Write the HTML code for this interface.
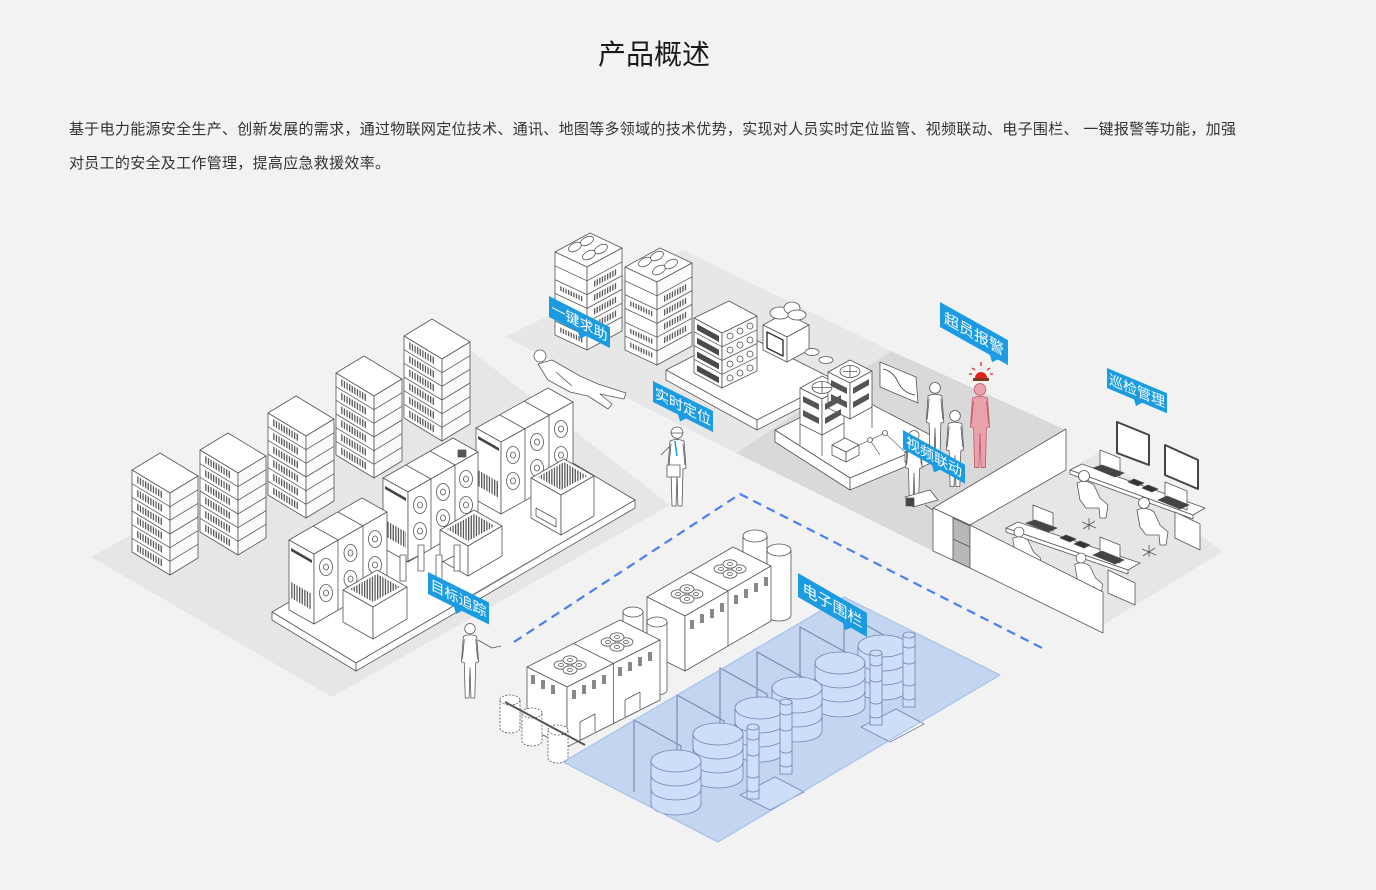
<!DOCTYPE html>
<html><head><meta charset="utf-8">
<style>
html,body{margin:0;padding:0;background:#f2f2f2;}
body{width:1376px;height:890px;position:relative;overflow:hidden;font-family:"Liberation Sans","Noto Sans CJK SC",sans-serif;}
.t{position:absolute;left:598px;top:37px;font-size:28px;line-height:36px;color:#1a1a1a;white-space:nowrap;}
.p{position:absolute;left:69px;font-size:15px;line-height:20px;color:#333;white-space:nowrap;letter-spacing:.3px;}
svg{position:absolute;left:0;top:0;}
</style></head><body>
<div class="t">产品概述</div>
<div class="p" style="top:120px">基于电力能源安全生产、创新发展的需求，通过物联网定位技术、通讯、地图等多领域的技术优势，实现对人员实时定位监管、视频联动、电子围栏、 一键报警等功能，加强</div>
<div class="p" style="top:154px">对员工的安全及工作管理，提高应急救援效率。</div>
<svg width="1376" height="890" viewBox="0 0 1376 890" xmlns="http://www.w3.org/2000/svg" font-family="Liberation Sans, Noto Sans CJK SC, sans-serif">
<defs>
<pattern id="vs" width="2.6" height="4" patternUnits="userSpaceOnUse"><rect width="1.3" height="4" fill="#5a5a5a"/></pattern>
<g id="rk">
<polygon points="0,17 28,0 66,23 38,40" fill="#fff"/>
<polygon points="0,17 38,40 38,122 0,99" fill="#fff"/>
<polygon points="38,40 66,23 66,105 38,122" fill="#fafafa"/>
<path d="M0,30.7L38,53.7L66,36.7M0,44.3L38,67.3L66,50.3M0,58L38,81L66,64M0,71.7L38,94.7L66,77.7M0,85.3L38,108.3L66,91.3" fill="none"/>
<g fill="url(#vs)" stroke="none">
<polygon points="4,22.4 30,38.2 30,45.2 4,29.4"/>
<polygon points="4,36.1 30,51.9 30,58.9 4,43.1"/>
<polygon points="4,49.7 30,65.5 30,72.5 4,56.7"/>
<polygon points="4,63.4 30,79.2 30,86.2 4,70.4"/>
<polygon points="4,77.1 30,92.9 30,99.9 4,84.1"/>
<polygon points="4,90.7 30,106.5 30,113.5 4,97.7"/>
</g>
</g>
<g id="rk2">
<polygon points="0,19 35,0 67,15 32,34" fill="#fff"/>
<polygon points="0,19 32,34 32,117 0,102" fill="#fff"/>
<polygon points="32,34 67,15 67,98 32,117" fill="#fafafa"/>
<path d="M0,32.8L32,47.8L67,28.8M0,46.6L32,61.6L67,42.6M0,60.4L32,75.4L67,56.4M0,74.2L32,89.2L67,70.2M0,88L32,103L67,84" fill="none"/>
<ellipse cx="20" cy="14" rx="7" ry="4" transform="rotate(-28 20 14)" fill="#fff"/>
<ellipse cx="32" cy="8" rx="7" ry="4" transform="rotate(-28 32 8)" fill="#fff"/>
<ellipse cx="34" cy="22" rx="7" ry="4" transform="rotate(-28 34 22)" fill="#fff"/>
<ellipse cx="46" cy="16" rx="7" ry="4" transform="rotate(-28 46 16)" fill="#fff"/>
<g fill="url(#vs)" stroke="none">
<polygon points="38,48.5 62,35.5 62,41.5 38,54.5"/>
<polygon points="38,62.3 62,49.3 62,55.3 38,68.3"/>
<polygon points="38,76.1 62,63.1 62,69.1 38,82.1"/>
<polygon points="38,89.9 62,76.9 62,82.9 38,95.9"/>
<polygon points="4,52.5 28,63.7 28,68.6 4,57.4"/>
<polygon points="4,80.1 28,91.3 28,96.2 4,85"/>
<polygon points="4,93.9 28,105.1 28,110 4,98.8"/>
</g>
</g>
<g id="pp"><circle cx="0" cy="6" r="5.5"/><path d="M-7,14Q0,11 7,14L9,41L6,42L5,79L1,79L0,47L-1,79L-5,79L-6,42L-9,41Z"/><path d="M-6,17L-8,38M6,17L8,38" fill="none"/></g>
<g id="fn"><ellipse rx="7" ry="4.2"/><ellipse rx="2.5" ry="1.5"/></g>
<g id="cf"><ellipse rx="6.5" ry="8.5"/><ellipse rx="2.5" ry="3"/></g>
<g id="sp"><circle cx="0" cy="0" r="5.5"/><path d="M-7,7Q2,3 10,9L16,22L24,29L22,42L16,42L15,32L2,32L-4,24Z"/><path d="M-2,46L12,52M5,42V54M-1,53L11,45" fill="none"/></g>
<g id="tk"><path d="M-25,0V43A25,11 0 0 0 25,43V0Z"/><ellipse cx="0" cy="0" rx="25" ry="11"/><path d="M-25,14A25,11 0 0 0 25,14M-25,28A25,11 0 0 0 25,28" fill="none"/></g>
<g id="cl"><rect x="-6" y="0" width="12" height="72"/><ellipse cx="0" cy="0" rx="6" ry="3"/><path d="M-6,10A6,3 0 0 0 6,10M-6,26A6,3 0 0 0 6,26M-6,48A6,3 0 0 0 6,48M-6,62A6,3 0 0 0 6,62" fill="none"/></g>
</defs>

<!-- floors -->
<polygon points="91,557 470,350 670,505 332,697" fill="#e6e6e6"/>
<polygon points="505,337 683,250 891,351 736,453" fill="#e7e7e7"/>
<polygon points="736,453 891,351 1066,430 933,510 933,551" fill="#d9d9d9"/>
<polygon points="970,525 1100,452 1222,552 1103,625" fill="#e6e6e6"/>

<!-- top band objects -->
<g fill="#fff" stroke="#555" stroke-width=".8" stroke-linejoin="round">
<use href="#rk2" transform="translate(555,233)"/>
<use href="#rk2" transform="translate(625,248)"/>
<polygon points="666,370 740,332 835,380 757,420"/>
<polygon points="666,370 757,420 757,430 666,380"/>
<polygon points="757,420 835,380 835,390 757,430"/>
<polygon points="694,318 729,301 757,316 722,333"/>
<polygon points="694,318 722,333 722,388 694,373"/>
<polygon points="722,333 757,316 757,371 722,388" fill="#fafafa"/>
<g fill="#4a4a4a" stroke="none">
<polygon points="697,324 719,336 719,342 697,330"/>
<polygon points="697,337.8 719,349.8 719,355.8 697,343.8"/>
<polygon points="697,351.5 719,363.5 719,369.5 697,357.5"/>
<polygon points="697,365.3 719,377.3 719,383.3 697,371.3"/>
</g>
<path d="M694,331.8L722,346.8L757,329.8M694,345.5L722,360.5L757,343.5M694,359.3L722,374.3L757,357.3" fill="none"/>
<g fill="none">
<circle cx="730" cy="336" r="3"/><circle cx="740" cy="331" r="3"/><circle cx="750" cy="326" r="3"/>
<circle cx="730" cy="350" r="3"/><circle cx="740" cy="345" r="3"/><circle cx="750" cy="340" r="3"/>
<circle cx="730" cy="364" r="3"/><circle cx="740" cy="359" r="3"/><circle cx="750" cy="354" r="3"/>
<circle cx="730" cy="378" r="3"/><circle cx="740" cy="373" r="3"/><circle cx="750" cy="368" r="3"/>
</g>
<polygon points="763,325 785,313 809,325 787,337"/>
<polygon points="763,325 787,337 787,362 763,350"/>
<polygon points="787,337 809,325 809,350 787,362"/>
<polygon points="767,332 783,340 783,356 767,348" fill="none" stroke="#333" stroke-width="1.4"/>
<ellipse cx="780" cy="313" rx="10" ry="6"/><ellipse cx="792" cy="308" rx="8" ry="6"/><ellipse cx="797" cy="315" rx="9" ry="5"/>
<ellipse cx="812" cy="352" rx="7" ry="3.5"/><ellipse cx="826" cy="360" rx="7" ry="3.5"/>
<polygon points="775,430 850,393 940,440 850,478"/>
<polygon points="775,430 850,478 850,490 775,442"/>
<polygon points="850,478 940,440 940,452 850,490"/>
<path d="M800,424V445M822,435V456M844,423V444M872,407V428" fill="none"/>
<polygon points="800,388 822,376 844,387 822,399"/>
<polygon points="800,388 822,399 822,435 800,424"/>
<polygon points="822,399 844,387 844,423 822,435"/>
<polygon points="828,372 850,360 872,371 850,383"/>
<polygon points="828,372 850,383 850,419 828,408"/>
<polygon points="850,383 872,371 872,407 850,419"/>
<g fill="#555" stroke="none">
<polygon points="803,396 819,404 819,410 803,402"/><polygon points="803,410 819,418 819,424 803,416"/>
<polygon points="825,404 841,395 841,401 825,410"/><polygon points="825,418 841,409 841,415 825,424"/>
<polygon points="831,380 847,388 847,394 831,386"/><polygon points="831,394 847,402 847,408 831,400"/>
<polygon points="853,388 869,379 869,385 853,394"/><polygon points="853,402 869,393 869,399 853,408"/>
</g>
<ellipse cx="822" cy="387.5" rx="10" ry="6"/><ellipse cx="850" cy="371.5" rx="10" ry="6"/>
<path d="M812,387.5H832M822,382V393M843,371.5H857M850,366V377" fill="none"/>
<polygon points="880,362 916,377 918,403 880,387"/>
<path d="M883,369Q893,371 898,382T915,395" fill="none" stroke="#333"/>
<polygon points="905,452 920,445 933,452 918,459"/><polygon points="905,452 918,459 918,469 905,462"/><polygon points="918,459 933,452 933,462 918,469"/>
<polygon points="832,445 845,438 859,445 846,452"/><polygon points="832,445 846,452 846,462 832,455"/><polygon points="846,452 859,445 859,455 846,462"/>
<path d="M859,445L885,433L905,452M870,440L880,455" fill="none" stroke="#777"/>
<circle cx="885" cy="433" r="2.5"/><circle cx="870" cy="440" r="2.5"/>
<circle cx="540" cy="356" r="6"/>
<path d="M538,364L552,360L580,376L598,384L626,393L624,399L600,394L612,404L608,409L588,396L570,392L548,380Z"/>
<path d="M556,372L572,386" fill="none"/>
<use href="#pp" transform="translate(677,427)"/>
<path d="M671,433A6,6 0 0 1 683,433Z" fill="#fff"/>
<path d="M675,441L677,456" fill="none" stroke="#1b9ce2" stroke-width="1.5"/>
<rect x="667" y="465" width="13" height="12"/>
<path d="M669,447L661,455" fill="none"/>
<use href="#pp" transform="translate(935,382) scale(.98)"/>
<use href="#pp" transform="translate(955,410) scale(.97)"/>
<use href="#pp" transform="translate(980,383) scale(1.07)" fill="#eaa3ad" stroke="#c45a6a"/>
<use href="#pp" transform="translate(914,430) scale(.92)"/>
<polygon points="905,497 930,490 938,500 913,507"/>
<rect x="906" y="498" width="8" height="8" fill="#444"/>
<path d="M925,505L936,512L944,510" fill="none"/>
</g>
<path d="M975,378A6,6 0 0 1 987,378Z" fill="#e3211b"/>
<rect x="973" y="378" width="16" height="3" fill="#7a3a20"/>
<path d="M981,362V366M972,368L975,370M990,368L987,370M969,374H972M990,374H993" stroke="#e3211b" stroke-width="1.2"/>

<!-- right room -->
<g fill="#fff" stroke="#555" stroke-width=".8" stroke-linejoin="round">
<polygon points="933,508 1066,429 1066,470 970,525"/>
<polygon points="933,508 970,525 970,568 933,551"/>
<polygon points="953,518 970,526 970,568 953,560" fill="#b8b8b8"/>
<path d="M953,539L970,547" fill="none"/>
<polygon points="1117,422 1149,435 1149,465 1117,453" stroke="#444" stroke-width="2"/>
<polygon points="1165,445 1198,460 1198,489 1165,475" stroke="#444" stroke-width="2"/>
<polygon points="1070,470 1082,464 1205,508 1193,515"/>
<polygon points="1070,470 1193,515 1193,519 1070,474"/>
<polygon points="1175,512 1200,524 1200,550 1175,538"/>
<polygon points="1100,450 1120,458 1120,476 1100,468"/>
<polygon points="1093,468 1115,477 1124,473 1102,465" fill="#444"/>
<polygon points="1165,482 1187,491 1187,510 1165,501"/>
<polygon points="1158,500 1180,509 1189,505 1167,496" fill="#444"/>
<polygon points="1128,482 1138,486 1144,483 1134,479" fill="#333"/>
<polygon points="1142,488 1152,492 1158,489 1148,485" fill="#333"/>
<polygon points="1006,528 1018,522 1140,563 1128,570"/>
<polygon points="1006,528 1128,570 1128,574 1006,532"/>
<polygon points="1108,570 1135,583 1135,605 1108,593"/>
<polygon points="1033,505 1053,513 1053,531 1033,523"/>
<polygon points="1026,523 1048,532 1057,528 1035,520" fill="#444"/>
<polygon points="1100,537 1120,545 1120,563 1100,555"/>
<polygon points="1093,555 1115,564 1124,560 1102,551" fill="#444"/>
<polygon points="1060,538 1070,542 1076,539 1066,535" fill="#333"/>
<polygon points="1074,544 1084,548 1090,545 1080,541" fill="#333"/>
<use href="#sp" transform="translate(1084,476)"/>
<use href="#sp" transform="translate(1144,503)"/>
<use href="#sp" transform="translate(1019,532) scale(.9)"/>
<use href="#sp" transform="translate(1081,558) scale(.9)"/>
<polygon points="970,525 1103,592 1103,633 970,568"/>
</g>

<!-- left racks -->
<g fill="#fff" stroke="#555" stroke-width=".8" stroke-linejoin="round">
<use href="#rk" transform="translate(404,319)"/>
<use href="#rk" transform="translate(336,356)"/>
<use href="#rk" transform="translate(268,396)"/>
<use href="#rk" transform="translate(200,433)"/>
<use href="#rk" transform="translate(132,453)"/>
</g>

<!-- left platform + machines -->
<g fill="#fff" stroke="#555" stroke-width=".8" stroke-linejoin="round">
<polygon points="272,612 551,450 635,500 356,663"/>
<polygon points="272,612 356,663 356,671 272,620"/>
<polygon points="356,663 635,500 635,508 356,671"/>
<path d="M455,606L540,556" fill="none" stroke="#999"/>
<polygon points="476,428 548,388 573,402 501,442"/>
<polygon points="476,428 501,442 501,514 476,500"/>
<polygon points="501,442 573,402 573,474 501,514"/>
<path d="M500,415L525,429M524,401L549,415M525,429V501M549,415V487" fill="none"/>
<polygon points="478,436 499,448 499,451 478,439" fill="#444" stroke="none"/>
<polygon points="478,470 499,482 499,498 478,486" fill="url(#vs)" stroke="none"/>
<use href="#cf" x="513" y="455"/><use href="#cf" x="513" y="481"/>
<use href="#cf" x="537" y="442"/><use href="#cf" x="537" y="468"/>
<use href="#cf" x="561" y="429"/><use href="#cf" x="561" y="455"/>
<polygon points="531,478 564,459 594,476 561,495"/>
<polygon points="531,478 561,495 561,535 531,518"/>
<polygon points="561,495 594,476 594,516 561,535"/>
<polygon points="538,477 564,462 587,476 561,490" fill="url(#vs)" stroke="none"/>
<polygon points="536,508 556,519 556,527 536,516" fill="none"/>
<polygon points="383,478 453,438 478,452 408,492"/>
<polygon points="383,478 408,492 408,562 383,548"/>
<polygon points="408,492 478,452 478,522 408,562"/>
<path d="M406,465L431,479M430,451L455,465M431,479V549M455,465V535" fill="none"/>
<polygon points="385,486 406,498 406,501 385,489" fill="#444" stroke="none"/>
<polygon points="385,520 406,532 406,548 385,536" fill="url(#vs)" stroke="none"/>
<use href="#cf" x="420" y="505"/><use href="#cf" x="420" y="531"/>
<use href="#cf" x="443" y="492"/><use href="#cf" x="443" y="518"/>
<use href="#cf" x="466" y="479"/><use href="#cf" x="466" y="505"/>
<rect x="458" y="450" width="8" height="7" fill="#555"/>
<polygon points="440,530 474,510 502,526 468,546"/>
<polygon points="440,530 468,546 468,576 440,560"/>
<polygon points="468,546 502,526 502,556 468,576"/>
<polygon points="447,529 474,514 495,526 468,541" fill="url(#vs)" stroke="none"/>
<rect x="400" y="555" width="6" height="26"/><rect x="418" y="545" width="6" height="26"/><rect x="436" y="555" width="6" height="26"/><rect x="454" y="545" width="6" height="26"/>
<path d="M406,562L418,556M442,562L454,556" fill="none"/>
<polygon points="289,540 362,498 387,512 314,554"/>
<polygon points="289,540 314,554 314,624 289,610"/>
<polygon points="314,554 387,512 387,582 314,624"/>
<path d="M313,526L338,540M338,512L363,526M338,540V610M363,526V596" fill="none"/>
<polygon points="291,548 312,560 312,563 291,551" fill="#444" stroke="none"/>
<polygon points="291,582 312,594 312,610 291,598" fill="url(#vs)" stroke="none"/>
<use href="#cf" x="326" y="567"/><use href="#cf" x="326" y="593"/>
<use href="#cf" x="350.5" y="553"/><use href="#cf" x="350.5" y="579"/>
<use href="#cf" x="375" y="539"/><use href="#cf" x="375" y="565"/>
<polygon points="343,590 377,570 407,587 373,607"/>
<polygon points="343,590 373,607 373,639 343,622"/>
<polygon points="373,607 407,587 407,619 373,639"/>
<polygon points="350,589 377,574 400,587 373,602" fill="url(#vs)" stroke="none"/>
<use href="#pp" transform="translate(470,623) scale(.95)"/>
<path d="M478,640L492,648L501,646" fill="none"/>
</g>

<path d="M514,642L740,494L1042,648" fill="none" stroke="#4a7ff2" stroke-width="2.2" stroke-dasharray="9 6"/>

<!-- generators -->
<g fill="#fff" stroke="#555" stroke-width=".8" stroke-linejoin="round">
<path d="M743,536V590A12,6 0 0 0 767,590V536Z"/><ellipse cx="755" cy="536" rx="12" ry="6"/>
<path d="M767,550V615A12,6 0 0 0 791,615V550Z"/><ellipse cx="779" cy="550" rx="12" ry="6"/>
<polygon points="647,597 733,547 771,566 685,616"/>
<polygon points="647,597 685,616 685,671 647,652"/>
<polygon points="685,616 771,566 771,621 685,671"/>
<path d="M690,572L728,591M728,591V646" fill="none"/>
<g fill="#fff"><use href="#fn" x="678" y="594"/><use href="#fn" x="696" y="594"/><use href="#fn" x="687" y="589"/><use href="#fn" x="687" y="599"/>
<use href="#fn" x="721" y="569"/><use href="#fn" x="739" y="569"/><use href="#fn" x="730" y="564"/><use href="#fn" x="730" y="574"/></g>
<g fill="#888" stroke="none"><rect x="690" y="620" width="4" height="9"/><rect x="700" y="614" width="4" height="9"/><rect x="710" y="609" width="4" height="9"/><rect x="720" y="603" width="4" height="9"/><rect x="734" y="595" width="4" height="9"/><rect x="744" y="589" width="4" height="9"/><rect x="754" y="583" width="4" height="9"/><rect x="764" y="577" width="4" height="9"/></g>
<path d="M623,612V690A10,5 0 0 0 643,690V612Z"/><ellipse cx="633" cy="612" rx="10" ry="5"/>
<path d="M647,622V690A10,5 0 0 0 667,690V622Z"/><ellipse cx="657" cy="622" rx="10" ry="5"/>
<polygon points="527,667 620,620 660,640 567,687"/>
<polygon points="527,667 567,687 567,747 527,727"/>
<polygon points="567,687 660,640 660,700 567,747"/>
<path d="M573.5,643.5L613.5,663.5M613.5,663.5V723.5" fill="none"/>
<g fill="#fff"><use href="#fn" x="561" y="665"/><use href="#fn" x="579" y="665"/><use href="#fn" x="570" y="660"/><use href="#fn" x="570" y="670"/>
<use href="#fn" x="608" y="642"/><use href="#fn" x="626" y="642"/><use href="#fn" x="617" y="637"/><use href="#fn" x="617" y="647"/></g>
<g fill="#888" stroke="none"><rect x="572" y="690" width="4" height="9"/><rect x="582" y="685" width="4" height="9"/><rect x="592" y="680" width="4" height="9"/><rect x="602" y="675" width="4" height="9"/><rect x="618" y="667" width="4" height="9"/><rect x="628" y="662" width="4" height="9"/><rect x="638" y="657" width="4" height="9"/><rect x="648" y="652" width="4" height="9"/>
<rect x="531" y="675" width="4" height="9"/><rect x="541" y="680" width="4" height="9"/><rect x="551" y="685" width="4" height="9"/></g>
<path d="M580,740V722L595,714V732M625,717V700L640,692V709" fill="none"/>
<g stroke-dasharray="2 1.5">
<path d="M500,700V728A10,5 0 0 0 520,728V700Z"/><ellipse cx="510" cy="700" rx="10" ry="5"/>
<path d="M522,713V741A10,5 0 0 0 542,741V713Z"/><ellipse cx="532" cy="713" rx="10" ry="5"/>
<path d="M548,730V758A10,5 0 0 0 568,758V730Z"/><ellipse cx="558" cy="730" rx="10" ry="5"/>
</g>
<path d="M505,702L585,745" fill="none" stroke-width="2"/>
</g>

<!-- fenced area content -->
<g fill="none" stroke="#7d8699" stroke-width="1.2">
<path d="M634,792V720L681,746V790M677,768V695L724,721V766M720,742V668L767,694V738M757,725V652L804,678V722M800,700V627L847,653V697M844,686V613L891,639V683"/>
</g>
<g fill="#fff" stroke="#6d7a95" stroke-width=".8">
<use href="#tk" transform="translate(883,646)"/>
<use href="#tk" transform="translate(840,663)"/>
<polygon points="861,727 896,709 924,724 890,742"/>
<use href="#cl" transform="translate(876,653)"/>
<use href="#cl" transform="translate(909,635)"/>
<use href="#tk" transform="translate(797,688)"/>
<use href="#tk" transform="translate(760,708)"/>
<polygon points="740,795 775,777 804,792 770,810"/>
<use href="#cl" transform="translate(753,727)"/>
<use href="#cl" transform="translate(786,702)"/>
<use href="#tk" transform="translate(718,734)"/>
<use href="#tk" transform="translate(676,761)"/>
</g>
<polygon points="563,762 844,597 1000,675 718,842" fill="rgba(110,160,235,0.35)" stroke="#9dbdf0" stroke-width="1"/>

<!-- tags -->
<g font-size="14" fill="#fff" text-anchor="middle">
<g transform="matrix(1,0.51,0,1,549,296)"><path d="M0,0H61V21H37L31,27L29,21H0Z" fill="#1b9ce2"/><text x="30.5" y="15.5">一键求助</text></g>
<g transform="matrix(1,0.5,0,1,653,381)"><path d="M0,0H60V21H33L27,27L25,21H0Z" fill="#1b9ce2"/><text x="30" y="15.5">实时定位</text></g>
<g transform="matrix(1,0.56,0,1,940,302)"><path d="M0,0H68V25H58L52,31L50,25H0Z" fill="#1b9ce2"/><text x="34" y="18" font-size="15">超员报警</text></g>
<g transform="matrix(1,0.42,0,1,1107,368)"><path d="M0,0H60V20H35L29,26L27,20H0Z" fill="#1b9ce2"/><text x="30" y="15">巡检管理</text></g>
<g transform="matrix(1,0.56,0,1,903,430)"><path d="M0,0H62V19H37L31,25L29,19H0Z" fill="#1b9ce2"/><text x="31" y="14.5">视频联动</text></g>
<g transform="matrix(1,0.5,0,1,428,572)"><path d="M0,0H61V22H34L28,28L26,22H0Z" fill="#1b9ce2"/><text x="30.5" y="16">目标追踪</text></g>
<g transform="matrix(1,0.58,0,1,798,573)"><path d="M0,0H69V24H53L47,30L45,24H0Z" fill="#1b9ce2"/><text x="34.5" y="17.5" font-size="15">电子围栏</text></g>
</g>
</svg>
</body></html>
